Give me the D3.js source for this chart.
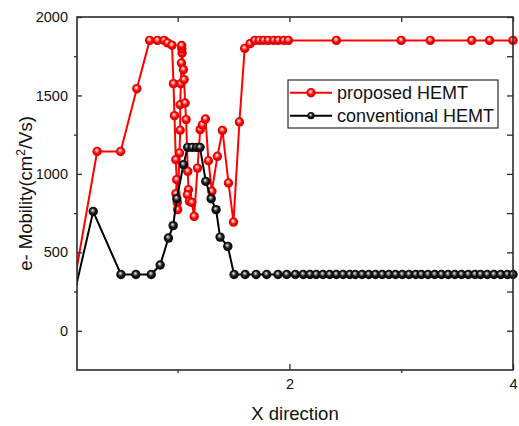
<!DOCTYPE html>
<html>
<head>
<meta charset="utf-8">
<script src="https://cdn.jsdelivr.net/npm/d3@7"></script>
<style>
  body { margin: 0; background: #fff; }
  svg { display: block; font-family: "Liberation Sans", Arial, sans-serif; }
</style>
</head>
<body>
<div id="chart"></div>
<script>
// data
const proposedX = [0, 0.28, 0.49, 0.635, 0.75, 0.82, 0.88, 0.91, 0.95, 0.963, 0.972, 0.984, 0.992, 0.985, 0.997, 1.0,
  1.017, 1.023, 1.023, 1.029, 1.034, 1.04, 1.038, 1.036, 1.052, 1.058, 1.067, 1.076, 1.091, 1.097, 1.088, 1.106,
  1.127, 1.148, 1.178, 1.202, 1.222, 1.249, 1.276, 1.306, 1.356, 1.401, 1.455, 1.5, 1.553, 1.6, 1.648, 1.69,
  1.73, 1.77, 1.81, 1.86, 1.9, 1.95, 1.99, 2.42, 3.0, 3.26, 3.63, 3.79, 4.0];
const proposedY = [0, 1143, 1143, 1543, 1851, 1851, 1851, 1835, 1820, 1575, 1371, 1091, 963, 874, 818, 772,
  1133, 1278, 1441, 1575, 1707, 1771, 1797, 1818, 1665, 1601, 1452, 1346, 1016, 899, 867, 825,
  818, 729, 1037, 1282, 1312, 1350, 1084, 889, 1112, 1277, 942, 693, 1331, 1800, 1830, 1851,
  1851, 1851, 1851, 1851, 1851, 1851, 1851, 1851, 1851, 1851, 1851, 1851, 1851];

const conventionalX = [0, 0.245, 0.493, 0.627, 0.764, 0.844, 0.918, 0.96, 0.993, 1.052, 1.09, 1.13, 1.17, 1.2,
  1.252, 1.3, 1.344, 1.38, 1.449, 1.505, 1.604, 1.702, 1.797, 1.898, 1.976, 2.053, 2.124, 2.184,
  2.24, 2.3, 2.36, 2.42, 2.48, 2.54, 2.59, 2.65, 2.71, 2.77, 2.83, 2.89, 2.95, 3.01, 3.07, 3.13,
  3.18, 3.24, 3.3, 3.36, 3.42, 3.48, 3.54, 3.6, 3.66, 3.71, 3.77, 3.83, 3.89, 3.95, 4.0];
const conventionalY = [0, 760, 359, 359, 359, 419, 591, 670, 842, 1059, 1169, 1169, 1169, 1169,
  952, 842, 772, 597, 538, 359, 359, 359, 359, 359, 359, 359, 359, 359,
  359, 359, 359, 359, 359, 359, 359, 359, 359, 359, 359, 359, 359, 359, 359, 359,
  359, 359, 359, 359, 359, 359, 359, 359, 359, 359, 359, 359, 359, 359, 359];

const seriesNames = ['proposed HEMT', 'conventional HEMT'];
const yMajorTicks = [0, 500, 1000, 1500, 2000];
const yMinorTicks = [250, 750, 1250, 1750];
const xMajorTicks = [2, 4];
const xMinorTicks = [1, 3];

const width = 519, height = 426;
const margin = { top: 17, right: 6, bottom: 56, left: 77 };
const iw = width - margin.left - margin.right;
const ih = height - margin.top - margin.bottom;

const x = d3.scaleLinear().domain([0.1, 4]).range([0, iw]);
const y = d3.scaleLinear().domain([-250, 2000]).range([ih, 0]);

const svg = d3.select('#chart').append('svg')
  .attr('width', width).attr('height', height);

const defs = svg.append('defs');
defs.append('clipPath').attr('id', 'plot-clip')
  .append('rect').attr('width', iw).attr('height', ih);

function ball(id, stops) {
  const g = defs.append('radialGradient').attr('id', id)
    .attr('cx', '50%').attr('cy', '50%').attr('r', '55%')
    .attr('fx', '42%').attr('fy', '35%');
  stops.forEach(([o, c]) => g.append('stop').attr('offset', o).attr('stop-color', c));
}
ball('ball-red', [['0%', '#ffffff'], ['22%', '#ff9a9a'], ['55%', '#ff0000'], ['100%', '#c40000']]);
ball('ball-black', [['0%', '#ffffff'], ['20%', '#9a9a9a'], ['50%', '#1a1a1a'], ['100%', '#000000']]);

const g = svg.append('g').attr('transform', `translate(${margin.left},${margin.top})`);

const series = [
  { name: seriesNames[0], xs: proposedX, ys: proposedY, color: '#ff0000', fill: 'url(#ball-red)', r: 4.7 },
  { name: seriesNames[1], xs: conventionalX, ys: conventionalY, color: '#000000', fill: 'url(#ball-black)', r: 4.7 },
];

const line = d3.line().x((d) => x(d[0])).y((d) => y(d[1]));

series.forEach((s) => {
  const pts = s.xs.map((v, i) => [v, s.ys[i]]);
  g.append('path')
    .attr('clip-path', 'url(#plot-clip)')
    .attr('d', line(pts))
    .attr('fill', 'none')
    .attr('stroke', s.color)
    .attr('stroke-width', 2)
    .attr('stroke-linejoin', 'round');
  g.append('g')
    .selectAll('circle')
    .data(pts.filter((d) => d[0] >= x.domain()[0]))
    .join('circle')
    .attr('cx', (d) => x(d[0]))
    .attr('cy', (d) => y(d[1]))
    .attr('r', s.r)
    .attr('fill', s.fill);
});

// axes
const axisColor = '#2b2b2b';
function styleAxis(sel) {
  sel.select('.domain').remove();
  sel.selectAll('line').attr('stroke', axisColor).attr('stroke-width', 1.3);
  sel.selectAll('text').attr('font-size', 14.5).attr('fill', '#111')
    .attr('font-family', '"Liberation Sans", Arial, sans-serif');
}

g.append('g')
  .call(d3.axisLeft(y).tickValues(yMajorTicks).tickSizeInner(-5).tickSizeOuter(0).tickPadding(9).tickFormat(d3.format('d')))
  .call(styleAxis);
g.append('g')
  .call(d3.axisLeft(y).tickValues(yMinorTicks).tickSize(3).tickFormat(''))
  .call(styleAxis);
g.append('g').attr('transform', `translate(${iw},0)`)
  .call(d3.axisRight(y).tickValues(yMajorTicks.concat(yMinorTicks)).tickSize(-6).tickFormat(''))
  .call(styleAxis);

g.append('g').attr('transform', `translate(0,${ih})`)
  .call(d3.axisBottom(x).tickValues(xMajorTicks).tickSizeInner(-6).tickSizeOuter(0).tickPadding(9).tickFormat(d3.format('d')))
  .call(styleAxis);
g.append('g').attr('transform', `translate(0,${ih})`)
  .call(d3.axisBottom(x).tickValues(xMinorTicks).tickSize(3).tickFormat(''))
  .call(styleAxis);
g.append('g')
  .call(d3.axisTop(x).tickValues(xMajorTicks.concat(xMinorTicks)).tickSize(-5).tickFormat(''))
  .call(styleAxis);

// frame
g.append('rect')
  .attr('width', iw).attr('height', ih)
  .attr('fill', 'none').attr('stroke', axisColor).attr('stroke-width', 1.6);

// axis titles
svg.append('text')
  .attr('x', margin.left + iw / 2).attr('y', 420)
  .attr('text-anchor', 'middle').attr('font-size', 18.5).attr('fill', '#111')
  .text('X direction');

const yt = svg.append('text')
  .attr('transform', `translate(32,${margin.top + ih / 2}) rotate(-90)`)
  .attr('text-anchor', 'middle').attr('font-size', 18.5).attr('fill', '#111');
yt.append('tspan').text('e- Mobility(cm');
yt.append('tspan').attr('font-size', 12).attr('dy', -7).text('2');
yt.append('tspan').attr('dy', 7).text('/Vs)');

// legend
const lg = svg.append('g').attr('transform', 'translate(288,80)');
lg.append('rect').attr('width', 210).attr('height', 48)
  .attr('fill', '#fff').attr('stroke', axisColor).attr('stroke-width', 1.2);
series.forEach((s, i) => {
  const cy = 12.7 + i * 23;
  lg.append('line').attr('x1', 2).attr('x2', 44).attr('y1', cy).attr('y2', cy)
    .attr('stroke', s.color).attr('stroke-width', 2);
  lg.append('circle').attr('cx', 23).attr('cy', cy).attr('r', i === 0 ? 4.7 : 3.6).attr('fill', s.fill);
  lg.append('text').attr('x', 49).attr('y', cy + 6.5)
    .attr('font-size', 18).attr('fill', '#111').text(s.name);
});
</script>
</body>
</html>
